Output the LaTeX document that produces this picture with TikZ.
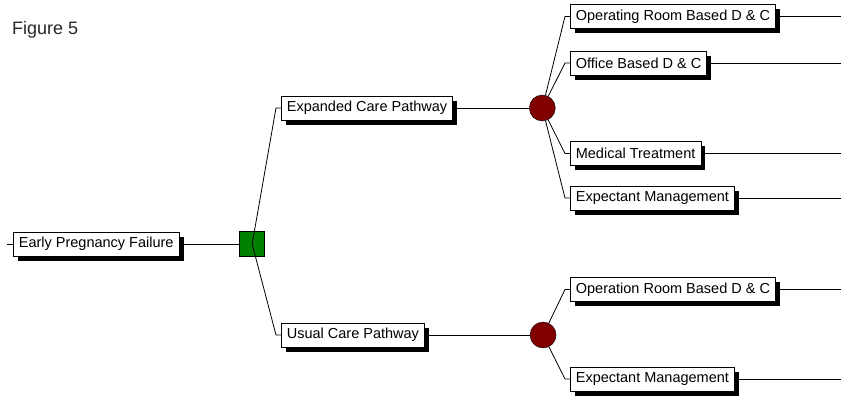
\documentclass[tikz,border=0pt]{standalone}
\usepackage{fontspec}
\setmainfont{Liberation Sans}
\usetikzlibrary{positioning,shadows}

\begin{document}
\begin{tikzpicture}[
  x=1pt, y=-1pt,
  box/.style={draw,fill=white,line width=0.7pt,anchor=west,minimum height=24pt,inner xsep=5.5pt,inner ysep=2pt,font=\fontsize{14.5}{16}\selectfont,general shadow={fill=black,shadow xshift=4.5pt,shadow yshift=-4.5pt}},
  decision/.style={draw,fill=green!50!black,minimum size=25pt,inner sep=0pt},
  chance/.style={circle,draw,fill=red!50!black,minimum size=26pt,inner sep=0pt},
  edge/.style={line width=0.8pt},
  elbow/.style={edge,to path={-- ([xshift=-5pt]\tikztotarget.west) -- (\tikztotarget.west)}}
]
\useasboundingbox (0,0) rectangle (841,397);
\node[anchor=west,inner sep=0pt,font=\fontsize{18}{20}\selectfont,text=black!85] (title) at (12,30) {Figure 5};
\node[box] (root) at (13,244) {Early Pregnancy Failure};
\node[decision,right=60pt of root] (dec) {};
\node[box] (exp) at (281,108) {Expanded Care Pathway};
\node[box] (usual) at (281,335) {Usual Care Pathway};
\node[chance,right=76pt of exp] (ch1) {};
\node[chance,right=105pt of usual] (ch2) {};
\node[box] (orb) at (570,16.5) {Operating Room Based D \& C};
\node[box] (obd) at (570,63) {Office Based D \& C};
\node[box] (med) at (570,153.5) {Medical Treatment};
\node[box] (exm) at (570,198) {Expectant Management};
\node[box] (orb2) at (570,289.5) {Operation Room Based D \& C};
\node[box] (exm2) at (570,379) {Expectant Management};
\coordinate (stub) at (7,244);
\coordinate (rim) at (841,0);
\draw[edge] (stub) -- (root);
\draw[edge] (root) -- (dec);
\draw[elbow] (dec.center) to (exp);
\draw[elbow] (dec.center) to (usual);
\draw[edge] (exp) -- (ch1);
\draw[edge] (usual) -- (ch2);
\draw[elbow] (ch1) to (orb);
\draw[elbow] (ch1) to (obd);
\draw[elbow] (ch1) to (med);
\draw[elbow] (ch1) to (exm);
\draw[elbow] (ch2) to (orb2);
\draw[elbow] (ch2) to (exm2);
\draw[edge] (orb) -- (orb -| rim);
\draw[edge] (obd) -- (obd -| rim);
\draw[edge] (med) -- (med -| rim);
\draw[edge] (exm) -- (exm -| rim);
\draw[edge] (orb2) -- (orb2 -| rim);
\draw[edge] (exm2) -- (exm2 -| rim);
\end{tikzpicture}
\end{document}
